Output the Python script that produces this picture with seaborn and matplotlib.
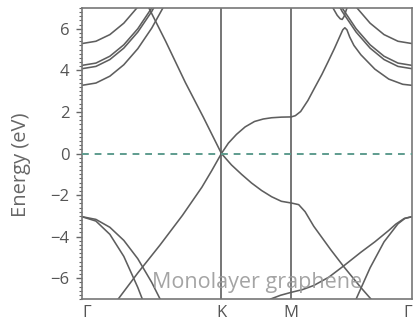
import numpy as np
import pandas as pd
import matplotlib
matplotlib.use("Agg")
import matplotlib.pyplot as plt
import seaborn as sns
from matplotlib.ticker import MultipleLocator

# ---- high-symmetry path ----
k_points = [0.0, 1.0, 1.5, 2.366]
k_labels = ["Γ", "K", "M", "Γ"]
GAMMA_R = 2.366

# ---- conduction bands near Γ (distance from Γ, energy) ----
d_cond = [0.0, 0.1, 0.2, 0.3, 0.4, 0.5, 0.6, 0.65]
band_A = [5.29, 5.40, 5.72, 6.27, 7.05, 8.00, 9.20, 10.0]
band_B = [4.24, 4.35, 4.68, 5.23, 6.00, 7.00, 8.20, 8.90]
band_C = [4.08, 4.19, 4.52, 5.07, 5.84, 6.83, 8.05, 8.70]
band_D = [3.28, 3.39, 3.72, 4.27, 5.04, 6.03, 7.24, 7.90]

# ---- sigma bands near Γ ----
d_s1_left = [0.0, 0.1, 0.2, 0.3, 0.4, 0.5, 0.56, 0.6]
s1_left = [-3.04, -3.17, -3.55, -4.18, -5.06, -6.20, -7.0, -7.5]
d_s2_left = [0.0, 0.1, 0.2, 0.3, 0.4, 0.45]
s2_left = [-3.04, -3.25, -3.89, -4.95, -6.44, -7.30]
d_s2_right = [0.0, 0.05, 0.1, 0.2, 0.3, 0.4, 0.45]
s2_right = [-3.04, -3.12, -3.38, -4.25, -5.50, -7.00, -7.80]
k_s1_right = [1.30, 1.353, 1.424, 1.5, 1.58, 1.662, 1.77, 1.878, 2.0, 2.1, 2.2, 2.25, 2.31, 2.366]
s1_right = [-7.3, -7.0, -6.82, -6.68, -6.55, -6.35, -5.95, -5.40, -4.75, -4.25, -3.70, -3.40, -3.13, -3.04]

# ---- Dirac (pi / pi*) bands ----
k_pi_GK = [0.20, 0.26, 0.40, 0.56, 0.72, 0.86, 0.93, 1.0]
pi_GK = [-7.5, -7.0, -5.75, -4.40, -2.98, -1.62, -0.83, 0.0]
k_pi_KM = [1.0, 1.072, 1.144, 1.216, 1.288, 1.36, 1.43, 1.5]
pi_KM = [0.0, -0.55, -1.0, -1.42, -1.78, -2.08, -2.30, -2.38]
k_pi_MG = [1.5, 1.554, 1.60, 1.662, 1.784, 1.878, 2.0, 2.072, 2.12]
pi_MG = [-2.38, -2.46, -2.80, -3.50, -4.63, -5.45, -6.45, -7.0, -7.4]

k_pis_GK = [0.45, 0.48, 0.60, 0.741, 0.87, 1.0]
pis_GK = [7.4, 7.0, 5.4, 3.42, 1.75, 0.0]
k_pis_KM = [1.0, 1.05, 1.108, 1.17, 1.237, 1.30, 1.36, 1.43, 1.5]
pis_KM = [0.0, 0.50, 0.92, 1.28, 1.54, 1.66, 1.72, 1.75, 1.76]
k_pis_MG = [1.5, 1.53, 1.568, 1.62, 1.662, 1.72, 1.763, 1.81, 1.85, 1.87, 1.885,
            1.90, 1.92, 1.95, 2.0, 2.1, 2.2, 2.3, 2.366]
pis_MG = [1.76, 1.82, 2.02, 2.55, 3.08, 3.80, 4.39, 5.05, 5.65, 5.95, 6.05,
          5.95, 5.60, 5.20, 4.75, 4.06, 3.58, 3.33, 3.28]
k_upper_MG = [1.77, 1.80, 1.83, 1.852, 1.866, 1.88, 1.90, 1.93]
upper_MG = [7.5, 7.0, 6.65, 6.48, 6.45, 6.6, 7.0, 7.5]

# ---- assemble long table ----
rows = []
def add(name, ks, es):
    for k, e in zip(ks, es):
        rows.append((name, k, e))

for nm, arr in [("A", band_A), ("B", band_B), ("C", band_C), ("D", band_D)]:
    add(nm + "_L", d_cond, arr)
for nm, arr in [("A", band_A), ("B", band_B), ("C", band_C)]:
    add(nm + "_R", [GAMMA_R - d for d in d_cond], arr)
add("s1_L", d_s1_left, s1_left)
add("s2_L", d_s2_left, s2_left)
add("s2_R", [GAMMA_R - d for d in d_s2_right], s2_right)
add("s1_R", k_s1_right, s1_right)
add("pi_GK", k_pi_GK, pi_GK)
add("pi_KM", k_pi_KM, pi_KM)
add("pi_MG", k_pi_MG, pi_MG)
add("pis_GK", k_pis_GK, pis_GK)
add("pis_KM", k_pis_KM, pis_KM)
add("pis_MG", k_pis_MG, pis_MG)
add("up_MG", k_upper_MG, upper_MG)
df = pd.DataFrame(rows, columns=["band", "k", "E"])

sns.set_theme(style="white")
plt.rcParams["font.family"] = ["Open Sans", "DejaVu Sans"]

fig = plt.figure(figsize=(4.14, 3.28), dpi=100)
ax = fig.add_axes([0.198, 0.0884, 0.797, 0.8872])

line_col = "#5e5e5e"
sns.lineplot(data=df, x="k", y="E", units="band", estimator=None, sort=False,
             color=line_col, linewidth=1.15, ax=ax, legend=False)

for kp in k_points[1:3]:
    ax.axvline(kp, color=line_col, lw=1.2, zorder=1)
ax.axhline(0, color="#5e9c8e", lw=1.4, dashes=(3.5, 3.0), zorder=3)

ax.set_xlim(k_points[0], k_points[-1])
ax.set_ylim(-7, 7)
ax.set_xticks(k_points)
ax.set_xticklabels(k_labels, fontsize=12, color="#555555")
xl = ax.get_xticklabels()
xl[0].set_ha("left")
xl[-1].set_ha("right")
ax.set_yticks([-6, -4, -2, 0, 2, 4, 6])
ax.set_yticklabels(["\u22126", "\u22124", "\u22122", "0", "2", "4", "6"], fontsize=12, color="#555555")
ax.yaxis.set_minor_locator(MultipleLocator(0.2))
ax.tick_params(axis="x", length=0, pad=4)
ax.tick_params(axis="y", which="major", length=4, width=1, color="#666666", left=True, direction="out", pad=5)
ax.tick_params(axis="y", which="minor", length=2.5, width=0.8, color="#666666", left=True, direction="out")
ax.set_xlabel("")
ax.set_ylabel("Energy (eV)", fontsize=14.5, color="#666666")
ax.yaxis.set_label_coords(-0.155, 0.46)

for s in ax.spines.values():
    s.set_color("#777777")
    s.set_linewidth(1.2)

ax.text(0.504, -6.46, "Monolayer graphene", fontsize=15.5, color="#9a9a9a",
        alpha=0.9, va="baseline", ha="left", zorder=5)

fig.savefig("out.png", dpi=100)
